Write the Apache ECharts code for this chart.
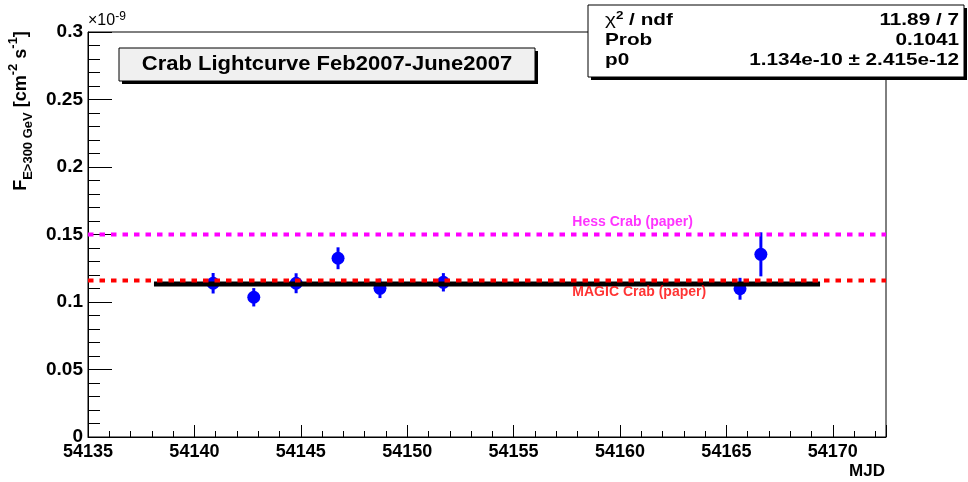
<!DOCTYPE html>
<html>
<head>
<meta charset="utf-8">
<title>Crab Lightcurve Feb2007-June2007</title>
<script src="https://cdn.jsdelivr.net/npm/echarts@6/dist/echarts.min.js"></script>
<style>
  html, body { margin: 0; padding: 0; background: #ffffff; }
  #chart { width: 968px; height: 482px; }
</style>
</head>
<body>
<div id="chart"></div>
<script>
// Nightly integral flux above 300 GeV, in units of 1e-9 cm^-2 s^-1
const mjd     = [54140.88, 54142.79, 54144.78, 54146.75, 54148.72, 54151.70, 54165.64, 54166.62];
const flux    = [0.1139, 0.1035, 0.1139, 0.1324, 0.1101, 0.1146, 0.1098, 0.1353];
const fluxErr = [0.0076, 0.0068, 0.0074, 0.0081, 0.0072, 0.0068, 0.0081, 0.0163];

// Constant fit p0 and the range it was fitted over
const fitValue = 0.1134;
const fitRange = [54138.1, 54169.4];

// Published Crab reference fluxes
const hessFlux  = 0.15;
const magicFlux = 0.116;
const hessLabel  = 'Hess Crab (paper)';
const magicLabel = 'MAGIC Crab (paper)';
const hessLabelAnchor  = [54157.76, 0.1593];
const magicLabelAnchor = [54157.76, 0.1070];

// Axis ranges
const xRange = [54135, 54172.5];
const yRange = [0, 0.3];
const xTitle = 'MJD';

// Fit statistics box
const statNames  = ['{g|χ}{sup|2}{t| / ndf}', 'Prob', 'p0'];
const statValues = ['11.89 / 7', '0.1041', '1.134e-10 ± 2.415e-12'];

const titleText = 'Crab Lightcurve Feb2007-June2007';

const FONT = '"Liberation Sans", Arial, Helvetica, sans-serif';

const chart = echarts.init(document.getElementById('chart'), null, { renderer: 'canvas' });

const points = mjd.map((m, i) => [m, flux[i], fluxErr[i]]);

function errorBar(params, api) {
  const x = api.value(0), y = api.value(1), e = api.value(2);
  const top = api.coord([x, y + e]);
  const bot = api.coord([x, y - e]);
  return {
    type: 'line',
    shape: { x1: top[0], y1: top[1], x2: bot[0], y2: bot[1] },
    style: { stroke: '#0000ff', lineWidth: 3 }
  };
}

// Stats box text rows
const statChildren = [];
statNames.forEach((name, i) => {
  const baseY = 20 + i * 20;
  statChildren.push({
    type: 'text', x: 605, y: baseY, scaleX: 1.22,
    style: {
      text: name, fill: '#000', font: 'bold 17px ' + FONT,
      align: 'left', verticalAlign: 'middle',
      rich: {
        g:   { fontFamily: FONT, fontSize: 17, fontWeight: 'normal', fill: '#000', lineHeight: 20 },
        t:   { fontFamily: FONT, fontSize: 17, fontWeight: 'bold', fill: '#000', lineHeight: 20 },
        sup: { fontFamily: FONT, fontSize: 11, fontWeight: 'bold', fill: '#000', verticalAlign: 'top', lineHeight: 12 }
      }
    }
  });
  statChildren.push({
    type: 'text', x: 959, y: baseY, scaleX: 1.22,
    style: {
      text: statValues[i], fill: '#000', font: 'bold 17px ' + FONT,
      align: 'right', verticalAlign: 'middle'
    }
  });
});

const option = {
  backgroundColor: '#ffffff',
  animation: false,
  grid: {
    left: 88, right: 82, top: 32, bottom: 45,
    show: true, borderColor: '#000', borderWidth: 1, backgroundColor: 'transparent'
  },
  xAxis: [
    {
      type: 'value', min: xRange[0], max: xRange[1], interval: 5,
      position: 'bottom',
      axisLine: { show: true, onZero: false, lineStyle: { color: '#000', width: 1 } },
      axisTick: { show: true, inside: true, length: 12, lineStyle: { color: '#000', width: 1 } },
      minorTick: { show: false },
      splitLine: { show: false },
      axisLabel: {
        margin: 6, color: '#000', fontFamily: FONT, fontWeight: 'bold', fontSize: 18,
        formatter: v => (Math.abs(v % 5) < 1e-6 ? String(Math.round(v)) : '')
      }
    },
    {
      type: 'value', min: xRange[0], max: xRange[1], interval: 1,
      position: 'bottom',
      axisLine: { show: false },
      axisTick: { show: true, inside: true, length: 6, lineStyle: { color: '#000', width: 1 } },
      axisLabel: { show: false },
      splitLine: { show: false }
    }
  ],
  yAxis: {
    type: 'value', min: yRange[0], max: yRange[1], interval: 0.05,
    axisLine: { show: true, onZero: false, lineStyle: { color: '#000', width: 1 } },
    axisTick: { show: true, inside: true, length: 24, lineStyle: { color: '#000', width: 1 } },
    minorTick: { show: true, splitNumber: 5, length: 12, lineStyle: { color: '#000', width: 1 } },
    splitLine: { show: false },
    axisLabel: {
      margin: 5, color: '#000', fontFamily: FONT, fontWeight: 'bold', fontSize: 19,
      formatter: v => String(parseFloat(v.toFixed(4)))
    }
  },
  series: [
    {
      name: 'errors', type: 'custom', renderItem: errorBar, data: points,
      encode: { x: 0, y: 1 }, z: 3, silent: true
    },
    {
      name: 'flux', type: 'scatter', data: points.map(p => [p[0], p[1]]),
      symbol: 'circle', symbolSize: 13,
      itemStyle: { color: '#0000ff', opacity: 1 }, z: 4, silent: true
    },
    {
      name: 'fit', type: 'line', data: [[fitRange[0], fitValue], [fitRange[1], fitValue]],
      symbol: 'none', lineStyle: { color: '#000', width: 5, cap: 'butt' }, z: 5, silent: true
    },
    {
      name: 'hess', type: 'line', data: [[xRange[0], hessFlux], [xRange[1], hessFlux]],
      symbol: 'none', lineStyle: { color: '#ff00ff', width: 4, type: [5.5, 6], cap: 'butt' }, z: 6, silent: true
    },
    {
      name: 'magic', type: 'line', data: [[xRange[0], magicFlux], [xRange[1], magicFlux]],
      symbol: 'none', lineStyle: { color: '#ff0000', width: 4, type: [5.5, 6], cap: 'butt' }, z: 6, silent: true
    },
    {
      name: 'refLabels', type: 'scatter', symbolSize: 0, silent: true, z: 7,
      data: [
        { value: hessLabelAnchor,  label: { formatter: hessLabel,  color: '#ff00ff' } },
        { value: magicLabelAnchor, label: { formatter: magicLabel, color: '#ff0000' } }
      ],
      label: {
        show: true, position: [0, 0], align: 'left', verticalAlign: 'middle',
        fontFamily: FONT, fontWeight: 'bold', fontSize: 14
      }
    }
  ],
  graphic: [
    // axis exponent
    {
      type: 'text', left: 88, top: 11, z: 10,
      style: {
        text: '{b|×10}{s|-9}', fill: '#000',
        rich: {
          b: { fontFamily: FONT, fontSize: 16, fontWeight: 'normal', fill: '#000', lineHeight: 18, verticalAlign: 'bottom' },
          s: { fontFamily: FONT, fontSize: 12, fontWeight: 'normal', fill: '#000', lineHeight: 12, verticalAlign: 'top' }
        }
      }
    },
    // x axis title
    {
      type: 'text', x: 885, y: 471, z: 10,
      style: { text: xTitle, font: 'bold 17px ' + FONT, fill: '#000', align: 'right', verticalAlign: 'middle' }
    },
    // y axis title
    {
      type: 'text', x: 21, y: 111, rotation: Math.PI / 2, z: 10,
      style: {
        text: '{m|F}{sub|E>300 GeV}{m| [cm}{sup|-2}{m| s}{sup|-1}{m|]}',
        align: 'center', verticalAlign: 'middle',
        rich: {
          m:   { fontFamily: FONT, fontSize: 18, fontWeight: 'bold', fill: '#000', lineHeight: 28 },
          sub: { fontFamily: FONT, fontSize: 13, fontWeight: 'bold', fill: '#000', lineHeight: 13, verticalAlign: 'bottom' },
          sup: { fontFamily: FONT, fontSize: 13, fontWeight: 'bold', fill: '#000', lineHeight: 13, verticalAlign: 'top' }
        }
      }
    },
    // title box with shadow
    {
      type: 'group', z: 20,
      children: [
        { type: 'rect', shape: { x: 122, y: 51, width: 416, height: 33 }, style: { fill: '#000' } },
        { type: 'rect', shape: { x: 119, y: 48, width: 416, height: 33 }, style: { fill: '#f0f0f0', stroke: '#000', lineWidth: 1 } },
        {
          type: 'text', x: 327, y: 64.5, scaleX: 1.1,
          style: { text: titleText, font: 'bold 20px ' + FONT, fill: '#000', align: 'center', verticalAlign: 'middle' }
        }
      ]
    },
    // fit statistics box with shadow
    {
      type: 'group', z: 20,
      children: [
        { type: 'rect', shape: { x: 591, y: 8, width: 376, height: 72 }, style: { fill: '#000' } },
        { type: 'rect', shape: { x: 588, y: 5, width: 376, height: 72 }, style: { fill: '#ffffff', stroke: '#000', lineWidth: 1 } }
      ].concat(statChildren)
    }
  ]
};

chart.setOption(option);
</script>
</body>
</html>
